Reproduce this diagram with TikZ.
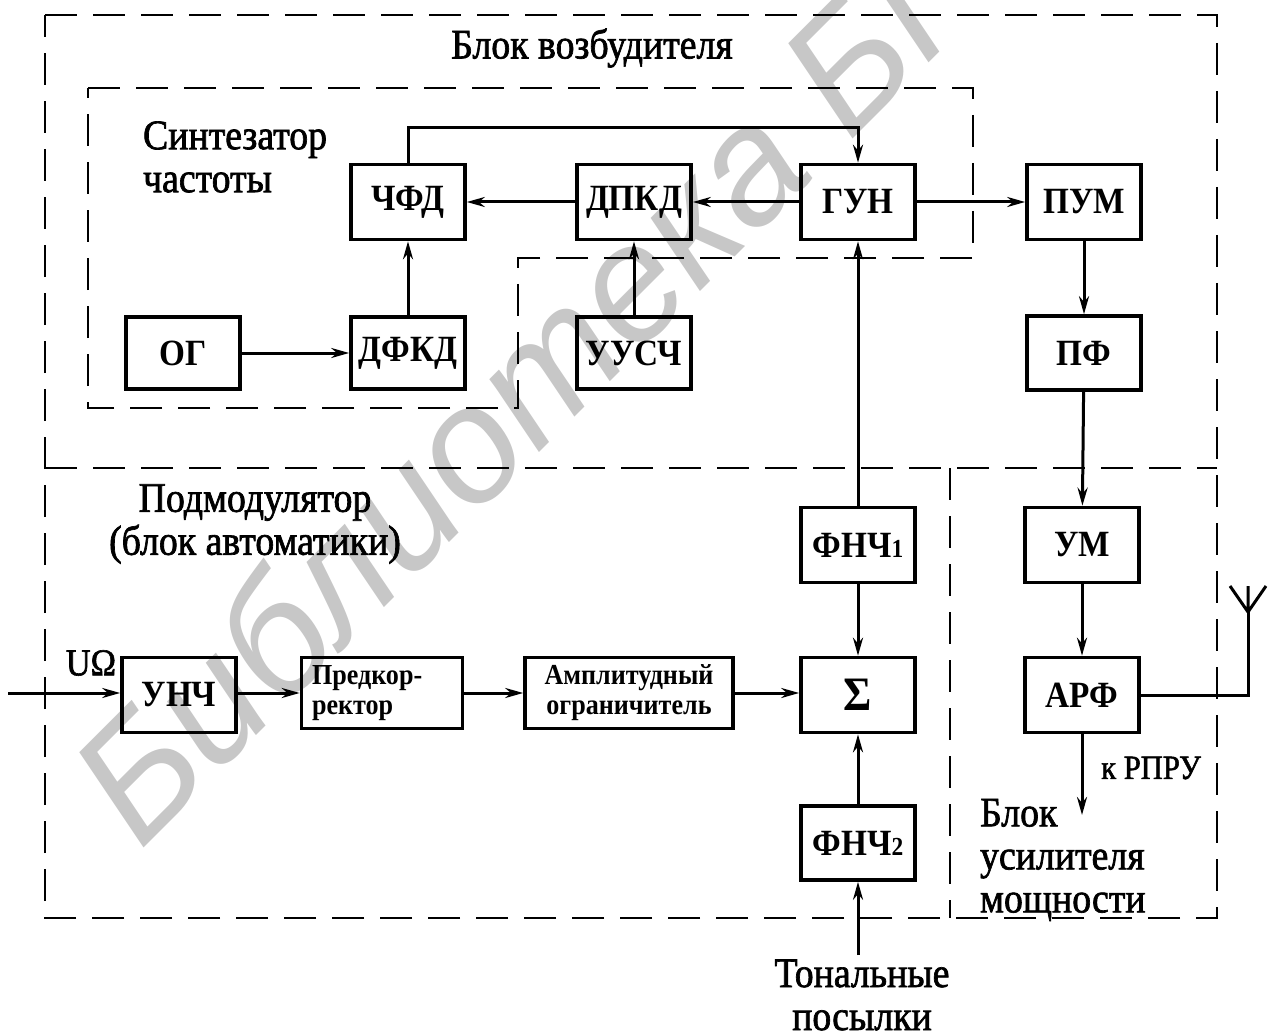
\documentclass[tikz,border=0pt]{standalone}
\usepackage{fontspec}
\setmainfont[FakeStretch=0.9]{Liberation Serif}
\newfontfamily\lblf[FakeStretch=0.9,FakeBold=1.6]{Liberation Serif}
\newfontfamily\wmfont{Liberation Sans}
\usetikzlibrary{arrows.meta}
\begin{document}
\begin{tikzpicture}[x=0.5pt,y=-0.5pt,
  blk/.style={draw,line width=1.8pt,inner sep=0pt,minimum width=57pt,minimum height=37.5pt,font=\fontsize{18.5}{20}\selectfont\bfseries},
  small/.style={font=\fontsize{14.5}{15}\selectfont\bfseries},
  conn/.style={line width=1.5pt},
  arr/.style={conn,-{Stealth[length=9pt,width=5pt]}},
  frame/.style={line width=1.3pt,dash pattern=on 16pt off 8pt},
  lbl/.style={font=\lblf\fontsize{21}{21.5}\selectfont}]
\useasboundingbox (0,0) rectangle (1274,1032);
\begin{scope}
\clip (0,0) rectangle (1274,1032);
\node[rotate=45, anchor=base west, text=black!22, inner sep=0pt, font=\wmfont\itshape\fontsize{82}{82}\selectfont] (wm) at (140,852) {Библиотека БГУИР};
\end{scope}
% frames
\draw[frame] (45,15) -- (1217,15) -- (1217,918) -- (45,918) -- cycle;
\draw[frame] (45,468) -- (1217,468);
\draw[frame] (950,468) -- (950,918);
\draw[frame] (88,88) -- (973,88) -- (973,258) -- (518,258) -- (518,408) -- (88,408) -- cycle;
% blocks
\node[blk] (chfd) at (408,202) {ЧФД};
\node[blk] (dpkd) at (634,202) {ДПКД};
\node[blk] (gun) at (858,202) {ГУН};
\node[blk] (pum) at (1084,202) {ПУМ};
\node[blk,minimum height=36pt] (og) at (183,353) {ОГ};
\node[blk,minimum height=36pt] (dfkd) at (408,353) {ДФКД};
\node[blk,minimum height=36pt] (uusch) at (634,353) {УУСЧ};
\node[blk,minimum height=37pt] (pf) at (1084,353) {ПФ};
\node[blk] (fnch1) at (858,545) {ФНЧ{\fontsize{13}{13}\selectfont 1}};
\node[blk] (um) at (1082,545) {УМ};
\node[blk] (unch) at (179,695) {УНЧ};
\node[blk,minimum width=80.5pt,minimum height=35.5pt,small,text width=70pt,align=left] (pred) at (382,693) {Предкор-\\ректор};
\node[blk,minimum width=104pt,minimum height=35.5pt,small,align=center] (ampl) at (629,693) {Амплитудный\\ограничитель};
\node[blk,font=\fontsize{24}{24}\selectfont\bfseries] (sum) at (858,695) {Σ};
\node[blk] (arf) at (1082,695) {АРФ};
\node[blk,minimum height=37pt] (fnch2) at (858,843) {ФНЧ{\fontsize{13}{13}\selectfont 2}};
% free ends
\coordinate (in) at (8,693);
\coordinate (ton) at (858,955);
\coordinate (rpru) at (1082,815);
\coordinate (ant) at (1248,612);
% connectors
\draw[arr] (chfd.north) -- ++(0,-35) -| (gun.north);
\draw[arr] (dpkd) -- (chfd);
\draw[arr] (gun) -- (dpkd);
\draw[arr] (gun) -- (pum);
\draw[arr] (dfkd) -- (chfd);
\draw[arr] (og) -- (dfkd);
\draw[arr] (uusch) -- (dpkd);
\draw[arr] (fnch1) -- (gun);
\draw[arr] (pum) -- (pf);
\draw[arr] (pf) -- (um);
\draw[arr] (um) -- (arf);
\draw[arr] (fnch1) -- (sum);
\draw[arr] (fnch2) -- (sum);
\draw[arr] (in) -- (unch.west |- in);
\draw[arr] (unch.east |- pred) -- (pred);
\draw[arr] (pred) -- (ampl);
\draw[arr] (ampl) -- (sum.west |- ampl);
\draw[arr] (ton) -- (fnch2);
\draw[arr] (arf) -- (rpru);
\draw[conn] (arf.east) -- (ant |- arf.east) -- (ant);
\draw[conn] (ant) -- ++(0,-26) (ant) -- ++(-18,-26) (ant) -- ++(18,-26);
% labels
\node[lbl] (t1) at (592,48) {Блок возбудителя};
\node[lbl,anchor=west,align=left] (t2) at (136,157) {Синтезатор\\частоты};
\node[lbl,align=center] (t3) at (255,524) {Подмодулятор\\(блок автоматики)};
\node[lbl,anchor=west,align=left] (t4) at (973,860) {Блок\\усилителя\\мощности};
\node[lbl,align=center] (t5) at (862,995) {Тональные\\посылки};
\node[font=\lblf\fontsize{17}{17}\selectfont] (t6) at (1151,768) {к РПРУ};
\node[font=\lblf\fontsize{19}{19}\selectfont] (t7) at (91,663) {UΩ};
\end{tikzpicture}
\end{document}
